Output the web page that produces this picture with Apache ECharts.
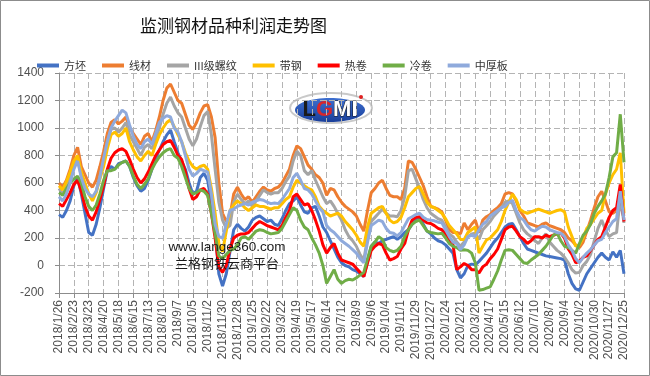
<!DOCTYPE html>
<html>
<head>
<meta charset="utf-8">
<script src="https://cdn.jsdelivr.net/npm/echarts@6/dist/echarts.min.js"></script>
<style>
  html, body { margin: 0; padding: 0; background: #fff; }
  #chart { width: 650px; height: 376px; }
</style>
</head>
<body>
<div id="chart"></div>
<script>
// weekly dates, 2018/1/26 .. 2020/12/25
const startDate = Date.UTC(2018, 0, 26);
const weekCount = 153;
const dates = [];
for (let i = 0; i < weekCount; i++) {
  const d = new Date(startDate + i * 7 * 86400000);
  dates.push(d.getUTCFullYear() + "/" + (d.getUTCMonth() + 1) + "/" + d.getUTCDate());
}

const seriesNames = ["方坯", "线材", "III级螺纹", "带钢", "热卷", "冷卷", "中厚板"];

const fangpi = [
  370, 350, 400, 470, 580, 640, 520, 380, 240, 220,
  300, 420, 560, 690, 720, 700, 740, 750, 760, 720,
  640, 580, 540, 560, 620, 700, 780, 840, 900, 950,
  985, 900, 820, 760, 700, 600, 520, 540, 640, 670,
  620, 450, 250, -60, -150, -60, 100, 260, 300, 270,
  250, 280, 330, 350, 360, 340, 320, 330, 300, 290,
  340, 400, 450, 470, 500, 440, 390, 380, 420, 430,
  360, 280, 240, 180, 120, 60, 20, 0, -10, -30,
  -40, -60, -80, 30, 140, 170, 160, 180, 190, 200,
  210, 190, 210, 240, 260, 300, 340, 350, 300, 250,
  230, 200, 180, 170, 150, 120, 90, -30, -90, -60,
  0, 10, 5, 30, 60, 90, 130, 170, 200, 240,
  280, 300, 305, 260, 210, 160, 120, 110, 100, 90,
  80, 70, 65, 60, 55, 50, 40, -60, -130, -170,
  -180, -120, -60, -20, 20, 60, 90, 60, 40, 100,
  60, 110, -60
];
const xiancai = [
  600, 570, 620, 700, 800, 860, 720, 660, 600, 570,
  620, 720, 830, 960, 1040, 1060, 1030, 1050, 1080, 1000,
  960, 920, 880, 940, 960, 900, 980, 1080, 1200, 1290,
  1320, 1260, 1200, 1180, 1100, 1020, 990, 1040, 1110, 1160,
  1170, 1080, 930, 600, 380, 320, 360, 520, 570, 520,
  480, 500, 460, 500, 540, 570, 550, 540, 560, 570,
  600, 650, 700, 800, 870, 850, 790, 730, 700, 660,
  640, 600, 510, 560, 550, 500, 460, 430, 410, 390,
  360, 300, 250, 400, 530, 560, 600, 620, 560, 510,
  500, 500, 480, 560, 760, 750, 700, 640, 580, 500,
  430, 420, 410, 390, 330, 260, 240, 240, 230, 310,
  260, 300, 330, 240, 330, 355, 370, 400, 420, 450,
  520, 530, 520, 470, 400, 360, 310, 300, 290, 280,
  300, 310, 290, 280, 270, 260, 240, 200, 180, 150,
  130, 170, 250, 330, 420, 500, 540, 470, 390, 380,
  400, 440, 360
];
const luowen = [
  560, 520, 580, 650, 720, 780, 650, 580, 520, 480,
  540, 650, 760, 900, 990, 1000, 970, 1000, 1040, 950,
  900, 850, 800, 860, 880, 850, 920, 1000, 1100, 1180,
  1225, 1160, 1110, 1080, 1000, 920, 870, 920, 1010, 1090,
  1120, 950, 700, 460, 330, 270, 290, 460, 520, 480,
  450, 470, 430, 470, 510, 550, 530, 520, 530, 530,
  560, 610, 650, 760, 830, 800, 690, 660, 690, 620,
  560, 500, 450, 470, 430, 380, 330, 260, 210, 180,
  140, 80, 40, 200, 320, 350, 380, 410, 380, 360,
  360, 355, 400, 500, 690, 700, 630, 560, 480, 420,
  380, 360, 340, 330, 280, 230, 210, 170, 140, 170,
  210, 230, 235, 190, 260, 290, 320, 360, 390, 420,
  460, 470, 450, 380, 310, 260, 230, 210, 180, 160,
  200, 230, 170, 140, 110, 90, 60, 20, -30, -55,
  -50, 0, 30, 80, 180, 270, 330, 260, 210, 230,
  240, 490, 310
];
const daigang = [
  580, 550, 610, 680, 760, 800, 680, 600, 520, 470,
  530, 630, 720, 850, 950, 970, 940, 960, 1000, 900,
  840, 790, 760, 800, 830, 800, 880, 950, 1000, 1040,
  1060, 1010, 950, 900, 820, 760, 720, 700, 720, 730,
  700, 560, 380, 160, 100, 250, 400, 440, 470, 450,
  420, 400, 420, 440, 430, 430, 420, 410, 420, 420,
  450, 480, 500, 570, 620, 600, 580, 560, 550, 500,
  430, 400, 380, 360, 370, 380, 360, 320, 290, 260,
  220, 170, 140, 280, 380, 400, 420, 430, 380, 330,
  310, 320, 350, 420, 500, 530, 560, 575, 520, 460,
  430, 420, 400, 380, 340, 290, 260, 230, 190, 190,
  240, 260, 280, 90, 140, 185, 200, 230, 260, 320,
  400, 460, 520, 480, 410, 390, 380, 390, 400, 410,
  400, 390, 380, 390, 400, 405, 390, 280, 210, 140,
  150, 200, 270, 300, 340, 380, 400, 520, 600, 660,
  700, 820, 380
];
const rejuan = [
  450, 430, 480, 530, 590, 620, 540, 430, 360, 330,
  390, 480, 580, 700, 780, 820, 840, 850, 830, 770,
  700, 640, 600, 630, 680, 740, 800, 840, 880, 900,
  910, 860, 800, 770, 680, 560, 480, 500, 550, 560,
  520, 380, 200, -10, -50, 0, 120, 200, 220, 230,
  230, 240, 270, 300, 320, 305, 290, 280, 270, 260,
  290, 350, 400, 500, 520, 480, 440, 450, 400, 330,
  250, 150, 90, 130, 160, 90, 40, 30, 20, 10,
  -20, -50, -80, 20, 110, 140, 160, 150, 90, 40,
  50, 65, 120, 160, 260, 330, 350, 355, 330, 310,
  305, 290, 270, 260, 230, 190, 150, -30, -10, 15,
  0, -30, -30, -55, -10, 10, 50, 80, 120, 190,
  260, 280, 285, 250, 210, 190, 160, 180, 210, 210,
  200, 220, 210, 220, 230, 235, 200, 120, 80, 20,
  30, 60, 70, 110, 150, 190, 210, 280, 350, 400,
  420, 590, 320
];
const lengjuan = [
  530, 510, 560, 600, 630, 650, 600, 500, 430, 400,
  440, 520, 620, 690, 690, 700, 730, 750, 760, 720,
  650, 590, 560, 590, 630, 700, 750, 790, 820, 840,
  850, 800, 780, 720, 640, 560, 520, 530, 550, 540,
  510, 380, 230, 70, 50, 80, 110, 120, 150, 200,
  210, 190, 220, 250, 260, 255, 240, 230, 235, 240,
  270, 320, 370, 420, 400, 330, 280, 260, 200, 150,
  90, 0, -130, -80, -30, -100, -130, -110, -100, -105,
  -90, -70, -50, 50, 140, 170, 210, 190, 130, 110,
  100, 110, 140, 210, 260, 300, 320, 330, 290, 250,
  240, 235, 230, 235, 200, 160, 140, 130, 110, 115,
  110, 90, 20, -180, -175, -165, -155, -100, -40, 40,
  110, 115, 110, 80, 50, 20, 15, 40, 60, 80,
  110, 140, 180, 220, 235, 180, 140, 130, 110, 90,
  160, 220, 250, 300, 380, 430, 470, 520, 640, 790,
  820, 1100, 750
];
const zhonghouban = [
  500, 470, 520, 600, 700, 760, 640, 560, 520, 500,
  540, 640, 780, 900, 1000, 1050, 1090, 1130, 1110, 1020,
  940, 880, 850, 900, 920, 880, 960, 1040, 1070, 1090,
  1080, 1000, 970, 900, 800, 700, 650, 670, 700, 690,
  680, 520, 300, 210, 200, 300, 400, 410, 430, 440,
  450, 440, 460, 470, 480, 475, 460, 450, 455, 450,
  480, 520, 560, 640, 670, 620, 560, 550, 520, 470,
  420, 390, 290, 260, 240, 210, 180, 160, 140, 115,
  90, 50, 20, 170, 290, 310, 330, 320, 270, 240,
  235, 215, 240, 290, 340, 355, 370, 380, 350, 335,
  330, 325, 315, 310, 260, 210, 170, 160, 115, 150,
  210, 220, 210, 260, 300, 320, 360, 380, 400, 420,
  430, 460, 475, 400, 350, 330, 290, 260, 250, 270,
  285, 280, 260, 250, 240, 235, 210, 150, 110, 50,
  20, 60, 90, 115, 150, 180, 190, 240, 280, 320,
  340, 540, 330
];

const seriesData = [fangpi, xiancai, luowen, daigang, rejuan, lengjuan, zhonghouban];
const colors = ["#4472C4", "#ED7D31", "#A5A5A5", "#FFC000", "#FF0000", "#70AD47", "#8FAADC"];

const chart = echarts.init(document.getElementById("chart"));

const gridLine = {
  show: true,
  lineStyle: { color: "#b4b4b4", width: 1, type: [6, 3] },
};

const logoFont = { fontSize: 22, fontWeight: "bold", fontFamily: "Liberation Sans" };

const option = {
  animation: false,
  backgroundColor: "#fff",
  title: {
    text: "监测钢材品种利润走势图",
    left: 135,
    top: 12,
    textStyle: {
      fontFamily: "Noto Sans CJK SC",
      fontSize: 17,
      fontWeight: "normal",
      color: "#111",
    },
  },
  legend: {
    data: seriesNames,
    left: 32,
    top: 55,
    icon: "rect",
    itemWidth: 22,
    itemHeight: 4,
    itemGap: 16,
    textStyle: {
      fontFamily: "Noto Sans CJK SC",
      fontSize: 11,
      color: "#333",
    },
  },
  grid: {
    left: 59,
    right: 26,
    top: 73,
    bottom: 83,
  },
  xAxis: {
    type: "category",
    boundaryGap: false,
    data: dates,
    axisLine: { onZero: false, lineStyle: { color: "#8c8c8c" } },
    axisTick: { show: true, interval: 3, length: 5, lineStyle: { color: "#8c8c8c" } },
    axisLabel: {
      interval: 3,
      rotate: 90,
      margin: 7,
      fontFamily: "Liberation Sans",
      fontSize: 12,
      color: "#505050",
    },
    splitLine: Object.assign({ interval: 3 }, gridLine),
  },
  yAxis: {
    type: "value",
    min: -200,
    max: 1400,
    interval: 200,
    axisLine: { show: true, lineStyle: { color: "#8c8c8c" } },
    axisTick: { show: true, length: 4, lineStyle: { color: "#8c8c8c" } },
    axisLabel: {
      margin: 15,
      fontFamily: "Liberation Sans",
      fontSize: 12,
      color: "#505050",
      formatter: function (v) { return String(v); },
    },
    splitLine: gridLine,
  },
  graphic: [
    {
      type: "rect",
      silent: true,
      z: -10,
      shape: { x: 0.5, y: 0.5, width: 649, height: 375 },
      style: { fill: "none", stroke: "#8c8c8c", lineWidth: 1 },
    },
    // LGMI logo
    {
      type: "ellipse",
      silent: true,
      shape: { cx: 331, cy: 108, rx: 41, ry: 15 },
      style: { fill: "none", stroke: "#c9c9c9", lineWidth: 2 },
    },
    {
      type: "ellipse",
      silent: true,
      shape: { cx: 330, cy: 110, rx: 35, ry: 12 },
      style: {
        fill: new echarts.graphic.LinearGradient(0, 0, 0, 1, [
          { offset: 0, color: "#3d6fd0" },
          { offset: 1, color: "#1a3f9a" },
        ]),
      },
    },
    {
      type: "text",
      silent: true,
      x: 330,
      y: 110,
      style: {
        text: "{l|L}{g|G}{m|M}{i|I}",
        align: "center",
        verticalAlign: "middle",
        font: "bold 22px Liberation Sans",
        rich: {
          l: Object.assign({ fill: "#1a1a1a" }, logoFont),
          g: Object.assign({ fill: "#d8262b" }, logoFont),
          m: Object.assign({ fill: "#ffffff", stroke: "#1a1a1a", lineWidth: 1 }, logoFont),
          i: Object.assign({ fill: "#ffffff", stroke: "#1a1a1a", lineWidth: 1 }, logoFont),
        },
      },
    },
    {
      type: "circle",
      silent: true,
      shape: { cx: 361, cy: 97, r: 2 },
      style: { fill: "#e02020" },
    },
    // watermark text
    {
      type: "text",
      silent: true,
      z: 100,
      x: 227,
      y: 247,
      style: {
        text: "www.lange360.com",
        align: "center",
        verticalAlign: "middle",
        font: "13.5px Liberation Sans",
        fill: "#1a1a1a",
      },
    },
    {
      type: "text",
      silent: true,
      z: 100,
      x: 227,
      y: 263,
      style: {
        text: "兰格钢铁云商平台",
        align: "center",
        verticalAlign: "middle",
        font: "13px Noto Sans CJK SC",
        fill: "#1a1a1a",
      },
    },
  ],
  series: seriesNames.map(function (name, i) {
    return {
      name: name,
      type: "line",
      data: seriesData[i],
      symbol: "none",
      smooth: false,
      itemStyle: { color: colors[i] },
      lineStyle: { width: 3, color: colors[i] },
    };
  }),
};

chart.setOption(option);
</script>
</body>
</html>
